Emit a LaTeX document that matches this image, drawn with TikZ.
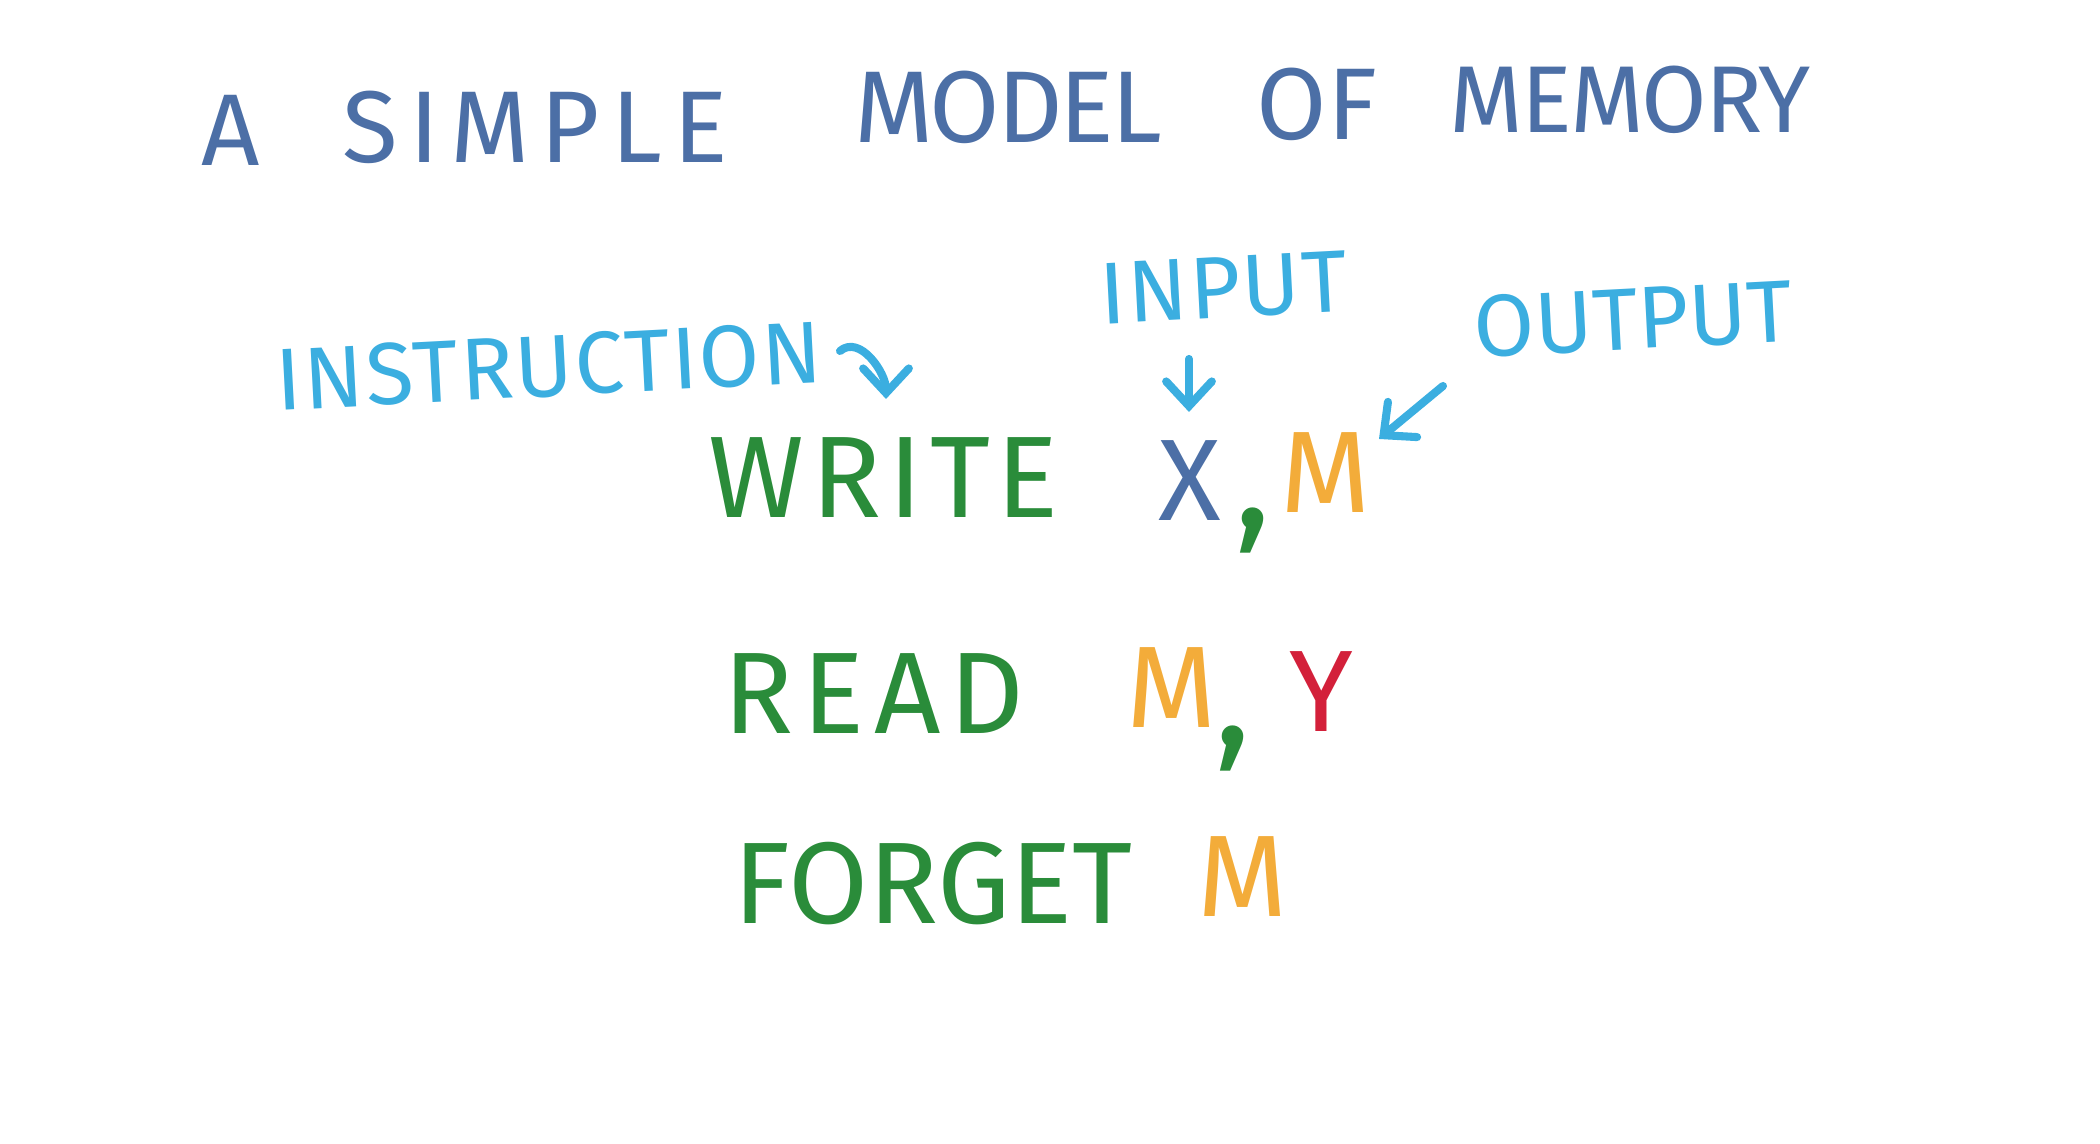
\documentclass[tikz,border=0pt]{standalone}
\usepackage{fontspec}
\setmainfont{Fira Sans}
\usetikzlibrary{arrows.meta}
\definecolor{penblue}{HTML}{4C6FA6}
\definecolor{pensky}{HTML}{3BAEE0}
\definecolor{pengreen}{HTML}{2A8C3A}
\definecolor{penorange}{HTML}{F3AC3A}
\definecolor{penred}{HTML}{D3203A}

\begin{document}
\begin{tikzpicture}[>=Stealth,
  heading/.style={text=penblue,inner sep=0pt,font=\fontsize{29}{30}\selectfont\addfontfeature{LetterSpace=#1}},
  heading/.default=0,
  tag/.style={text=pensky,inner sep=0pt,rotate=3,font=\fontsize{25}{26}\selectfont\addfontfeature{LetterSpace=#1}},
  tag/.default=0,
  opname/.style={text=pengreen,inner sep=0pt,font=\fontsize{33}{34}\selectfont\addfontfeature{LetterSpace=#1}},
  opname/.default=8,
  operand/.style={inner sep=0pt,font=\fontsize{33}{34}\selectfont},
  sep/.style={text=pengreen,inner sep=0pt,font=\fontsize{44}{44}\selectfont},
  pointer/.style={draw=pensky,line width=2.3pt,line cap=round,line join=round,-{Straight Barb[length=7pt,width=13pt,line cap=round]}}]
\useasboundingbox (0,0) rectangle (21,11.44);
% title
\node[heading] (tA) at (2.31,10.14) {A};
\node[heading=11] (tsimple) at (5.35,10.17) {SIMPLE};
\node[heading=-3] (tmodel) at (10.08,10.37) {MODEL};
\node[heading] (tof) at (13.17,10.40) {OF};
\node[heading=-2,font=\fontsize{27}{28}\selectfont\addfontfeature{LetterSpace=-2}] (tmemory) at (16.30,10.44) {MEMORY};
% labels
\node[tag=2] (instr) at (5.49,7.78) {INSTRUCTION};
\node[tag=2] (input) at (12.24,8.56) {INPUT};
\node[tag] (output) at (16.33,8.25) {OUTPUT};
% operations
\node[opname=6] (write) at (8.84,6.66) {WRITE};
\node[operand,text=penblue] (xin) at (11.90,6.63) {X};
\node[sep] (c1) at (12.53,6.13) {,};
\node[operand,text=penorange] (m1) at (13.26,6.71) {M};
\node[opname] (read) at (8.74,4.50) {READ};
\node[operand,text=penorange] (m2) at (11.72,4.56) {M};
\node[sep] (c2) at (12.33,3.95) {,};
\node[operand,text=penred] (yout) at (13.21,4.52) {Y};
\node[opname=0] (forget) at (9.33,2.60) {FORGET};
\node[operand,text=penorange] (m3) at (12.43,2.67) {M};
% pointers
\coordinate (instrtail) at (8.40,7.93);
\coordinate (instrhead) at (8.86,7.45);
\coordinate (inputtail) at (11.89,7.85);
\coordinate (inputhead) at (11.89,7.32);
\coordinate (outputtail) at (14.43,7.58);
\coordinate (outputhead) at (13.79,7.05);
\draw[pointer] (instrtail) to[out=40,in=90] (instrhead);
\draw[pointer] (inputtail) -- (inputhead);
\draw[pointer] (outputtail) -- (outputhead);
\end{tikzpicture}
\end{document}
